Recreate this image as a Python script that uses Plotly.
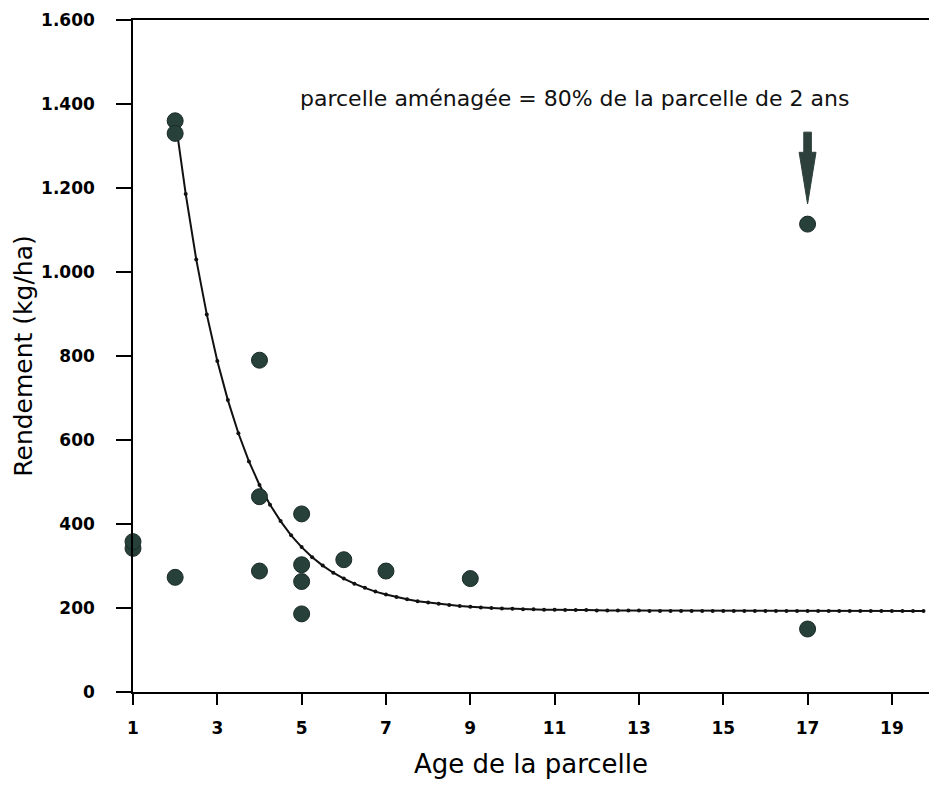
import plotly.graph_objects as go

# Observed plots (age, yield kg/ha)
obs_age = [1, 1, 2, 2, 2, 4, 4, 4, 5, 5, 5, 5, 6, 7, 9, 17, 17]
obs_yield = [342, 358, 273, 1360, 1330, 790, 465, 288, 424, 303, 263, 186, 315, 288, 270, 1114, 150]

# Fitted curve
curve_age = [2.0, 2.25, 2.5, 2.75, 3.0, 3.25, 3.5, 3.75, 4.0, 4.25, 4.5, 4.75,
             5.0, 5.25, 5.5, 5.75, 6.0, 6.25, 6.5, 6.75, 7.0, 7.25, 7.5, 7.75,
             8.0, 8.25, 8.5, 8.75, 9.0, 9.25, 9.5, 9.75, 10.0, 10.25, 10.5, 10.75,
             11.0, 11.25, 11.5, 11.75, 12.0, 12.25, 12.5, 12.75, 13.0, 13.25, 13.5, 13.75,
             14.0, 14.25, 14.5, 14.75, 15.0, 15.25, 15.5, 15.75, 16.0, 16.25, 16.5, 16.75,
             17.0, 17.25, 17.5, 17.75, 18.0, 18.25, 18.5, 18.75, 19.0, 19.25, 19.5, 19.75]
curve_yield = [1365, 1186, 1030, 899, 788, 695, 616, 549, 493, 446, 407, 373,
               345, 321, 301, 284, 270, 258, 248, 239, 232, 226, 221, 216,
               213, 210, 207, 205, 203, 201, 200, 199, 198, 197, 197, 196,
               196, 195, 195, 195, 194, 194, 194, 194, 194, 193, 193, 193,
               193, 193, 193, 193, 193, 193, 193, 193, 193, 193, 193, 193,
               193, 193, 193, 193, 193, 193, 193, 193, 193, 193, 193, 193]

x_ticks = [1, 3, 5, 7, 9, 11, 13, 15, 17, 19]
y_ticks = [0, 200, 400, 600, 800, 1000, 1200, 1400, 1600]
y_tick_labels = ["0", "200", "400", "600", "800", "1.000", "1.200", "1.400", "1.600"]

annotation_text = "parcelle aménagée = 80% de la parcelle de 2 ans"

# Arrow pointing at the improved plot (data units)
arrow_x = 17
arrow_top = 1333
arrow_neck = 1285
arrow_tip = 1162
shaft_half = 0.09
head_half = 0.2

FONT = "DejaVu Sans, Verdana, sans-serif"

fig = go.Figure()
fig.add_trace(go.Scatter(
    x=curve_age, y=curve_yield, mode="lines+markers",
    line=dict(color="#111111", width=2),
    marker=dict(size=4, color="#111111"),
    cliponaxis=False, showlegend=False, hoverinfo="skip"))
fig.add_trace(go.Scatter(
    x=obs_age, y=obs_yield, mode="markers",
    marker=dict(size=16, color="#27403a", line=dict(color="#1a2b27", width=1)),
    cliponaxis=False, showlegend=False))

fig.add_annotation(x=11.47, y=1414, text=annotation_text, showarrow=False,
                   xanchor="center", yanchor="middle",
                   font=dict(family=FONT, size=22, color="#111111"))

path = (f"M {arrow_x - shaft_half} {arrow_top} L {arrow_x + shaft_half} {arrow_top} "
        f"L {arrow_x + shaft_half} {arrow_neck} L {arrow_x + head_half} {arrow_neck} "
        f"L {arrow_x} {arrow_tip} L {arrow_x - head_half} {arrow_neck} "
        f"L {arrow_x - shaft_half} {arrow_neck} Z")
fig.add_shape(type="path", path=path, xref="x", yref="y",
              fillcolor="#2d403b", line=dict(color="#2d403b", width=1))

axis_common = dict(showline=True, linecolor="black", linewidth=1.5, mirror=True,
                   ticks="outside", tickcolor="black", tickwidth=1.5,
                   showgrid=False, zeroline=False)

fig.update_xaxes(range=[1, 19.88], tickvals=x_ticks, ticklen=11, ticklabelstandoff=9,
                 tickfont=dict(family=FONT, size=17, color="black", weight="bold"),
                 title=dict(text="Age de la parcelle", standoff=20,
                            font=dict(family=FONT, size=26, color="black")),
                 **axis_common)
fig.update_yaxes(range=[0, 1600], tickvals=y_ticks, ticktext=y_tick_labels, ticklen=15,
                 ticklabelstandoff=18,
                 tickfont=dict(family=FONT, size=17, color="black", weight="bold"),
                 title=dict(text="Rendement (kg/ha)", standoff=1,
                            font=dict(family=FONT, size=25, color="black")),
                 **axis_common)

fig.update_layout(width=921, height=771, paper_bgcolor="white", plot_bgcolor="white",
                  margin=dict(l=125, r=0, t=12, b=87, autoexpand=False))

fig.write_html("out.html")
